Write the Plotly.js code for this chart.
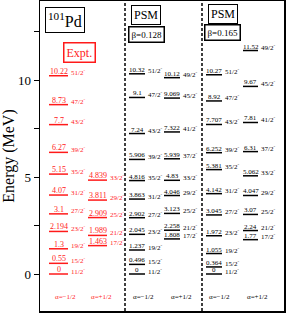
<!DOCTYPE html>
<html><head><meta charset="utf-8">
<script src="https://cdn.plot.ly/plotly-3.0.1.min.js"></script>
<style>html,body{margin:0;padding:0;background:#fff}#c{width:286px;height:313px}</style>
</head><body><div id="c"></div>
<script>
// ---- data ----
const expMinusE = [0, 0.55, 1.3, 2.194, 3.1, 4.07, 5.15, 6.27, 7.7, 8.73, 10.22];
const expMinusL = ["0", "0.55", "1.3", "2.194", "3.1", "4.07", "5.15", "6.27", "7.7", "8.73", "10.22"];
const expMinusJ = ["11/2", "15/2", "19/2", "23/2", "27/2", "31/2", "35/2", "39/2", "43/2", "47/2", "51/2"];
const expPlusE = [1.463, 1.989, 2.909, 3.811, 4.839];
const expPlusL = ["1.463", "1.989", "2.909", "3.811", "4.839"];
const expPlusJ = ["17/2", "21/2", "25/2", "29/2", "33/2"];

const psmAMinusE = [0, 0.496, 1.237, 2.045, 2.902, 3.863, 4.816, 5.906, 7.24, 9.1, 10.32];
const psmAMinusL = ["0", "0.496", "1.237", "2.045", "2.902", "3.863", "4.816", "5.906", "7.24", "9.1", "10.32"];
const psmAMinusJ = ["11/2", "15/2", "19/2", "23/2", "27/2", "31/2", "35/2", "39/2", "43/2", "47/2", "51/2"];
const psmAPlusE = [1.808, 2.258, 3.123, 4.046, 4.83, 5.939, 7.322, 9.069, 10.12];
const psmAPlusL = ["1.808", "2.258", "3.123", "4.046", "4.83", "5.939", "7.322", "9.069", "10.12"];
const psmAPlusJ = ["17/2", "21/2", "25/2", "29/2", "33/2", "37/2", "41/2", "45/2", "49/2"];

const psmBMinusE = [0, 0.364, 1.055, 1.972, 3.045, 4.142, 5.381, 6.252, 7.707, 8.92, 10.27];
const psmBMinusL = ["0", "0.364", "1.055", "1.972", "3.045", "4.142", "5.381", "6.252", "7.707", "8.92", "10.27"];
const psmBMinusJ = ["11/2", "15/2", "19/2", "23/2", "27/2", "31/2", "35/2", "39/2", "43/2", "47/2", "51/2"];
const psmBPlusE = [1.77, 2.24, 3.07, 4.047, 5.062, 6.31, 7.81, 9.67, 11.52];
const psmBPlusL = ["1.77", "2.24", "3.07", "4.047", "5.062", "6.31", "7.81", "9.67", "11.52"];
const psmBPlusJ = ["17/2", "21/2", "25/2", "29/2", "33/2", "37/2", "41/2", "45/2", "49/2"];

const yTickVals = [0, 2.5, 5, 7.5, 10, 12.5];
const yTickText = ["0", "", "5", "", "10", ""];

// ---- layout helpers (pixel-based positions) ----
const L = 40, R = 284, T = 1, B = 311;
const px = p => p - L;                  // x data = pixel offset
const py = p => (B - p) / (B - T);      // paper y from pixel
const FONT = "Liberation Serif, Times New Roman, serif";
const RED = "#ff1a1a";

const columns = [
  {E: expMinusE, L: expMinusL, J: expMinusJ, x0: 49, x1: 68, color: RED, nf: 8},
  {E: expPlusE, L: expPlusL, J: expPlusJ, x0: 88, x1: 107, color: RED, nf: 8},
  {E: psmAMinusE, L: psmAMinusL, J: psmAMinusJ, x0: 129, x1: 145, color: "#000", nf: 7},
  {E: psmAPlusE, L: psmAPlusL, J: psmAPlusJ, x0: 164, x1: 180, color: "#000", nf: 7},
  {E: psmBMinusE, L: psmBMinusL, J: psmBMinusJ, x0: 206, x1: 222, color: "#000", nf: 7},
  {E: psmBPlusE, L: psmBPlusL, J: psmBPlusJ, x0: 243, x1: 258, color: "#000", nf: 7}
];

const traces = [];
const ann = [];
columns.forEach(c => {
  const xs = [], ys = [];
  c.E.forEach((e, i) => {
    xs.push(px(c.x0), px(c.x1), null);
    ys.push(e, e, null);
    ann.push({x: px((c.x0 + c.x1) / 2), y: e, xref: "x", yref: "y", text: c.L[i],
      showarrow: false, xanchor: "center", yanchor: "bottom", yshift: -2,
      font: {family: FONT, size: c.nf, color: c.color}});
    ann.push({x: px(c.x1 + 1), y: e, xref: "x", yref: "y", text: c.J[i] + "<sup>-</sup>",
      showarrow: false, xanchor: "left", yanchor: "middle", yshift: 3,
      font: {family: FONT, size: 7, color: c.color}});
  });
  traces.push({type: "scatter", mode: "lines", x: xs, y: ys, hoverinfo: "skip",
    line: {color: c.color, width: 1.5}, showlegend: false});
});

// alpha labels
[[65, RED, "α=−1/2"], [101, RED, "α=+1/2"], [143, "#000", "α=−1/2"], [181, "#000", "α=+1/2"],
 [219, "#000", "α=−1/2"], [257, "#000", "α=+1/2"]].forEach(a => {
  ann.push({x: px(a[0]), y: py(297), xref: "x", yref: "paper", text: a[2], showarrow: false,
    xanchor: "center", yanchor: "middle", font: {family: FONT, size: 7, color: a[1]}});
});

// boxes
function box(cx, cy, text, size, color, bw) {
  ann.push({x: px(cx), y: py(cy), xref: "x", yref: "paper", text: text, showarrow: false,
    xanchor: "center", yanchor: "middle", font: {family: FONT, size: size, color: color},
    bordercolor: color, borderwidth: bw, borderpad: 2, bgcolor: "#fff"});
}
box(64.5, 19.5, "<sup>101</sup>Pd", 16, "#000", 1);
box(79, 52, "Expt.", 12, RED, 1.5);
box(146, 14.5, "PSM", 12, "#000", 1);
box(146, 34.5, "β=0.128", 9, "#000", 1.5);
box(223, 14, "PSM", 12, "#000", 1);
box(222.5, 32.5, "β=0.165", 9, "#000", 1.5);

const shapes = [125, 202].map(p => ({type: "line", xref: "x", yref: "paper", x0: px(p), x1: px(p),
  y0: 0, y1: 1, line: {color: "#000", width: 1.5, dash: "3px,2px"}}));

const layout = {
  width: 286, height: 313,
  margin: {l: L, r: 286 - R, t: T, b: 313 - B},
  paper_bgcolor: "#fff", plot_bgcolor: "#fff",
  font: {family: FONT, color: "#000"},
  xaxis: {range: [0, R - L], showticklabels: false, ticks: "", showgrid: false, zeroline: false,
    showline: true, mirror: true, linecolor: "#000", linewidth: 1.5, fixedrange: true},
  yaxis: {range: [(B - 274) / -19.4, (274 - T) / 19.4], tickmode: "array", tickvals: yTickVals,
    ticktext: yTickText, ticks: "outside", ticklen: 5, tickwidth: 1, tickcolor: "#000",
    showgrid: false, zeroline: false, showline: true, mirror: true, linecolor: "#000", linewidth: 1.5,
    tickfont: {family: FONT, size: 13, color: "#000"},
    title: {text: "Energy (MeV)", font: {family: FONT, size: 16, color: "#000"}, standoff: 4}},
  annotations: ann, shapes: shapes
};
Plotly.newPlot("c", traces, layout, {staticPlot: true, displayModeBar: false});
</script></body></html>
